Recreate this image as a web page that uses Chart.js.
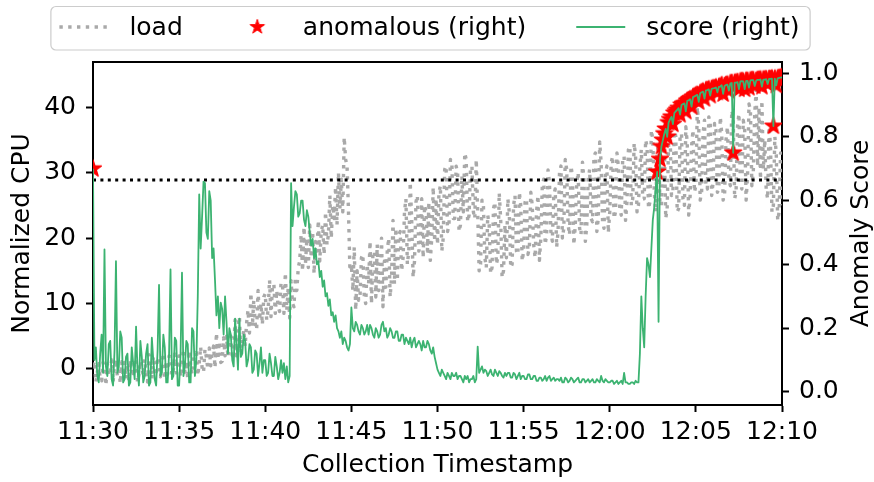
<!DOCTYPE html>
<html>
<head>
<meta charset="utf-8">
<script src="https://cdn.jsdelivr.net/npm/chart.js@4.4.0/dist/chart.umd.min.js"></script>
<style>html,body{margin:0;padding:0;background:#fff}canvas{display:block}</style>
</head>
<body>
<canvas id="c" width="874" height="482"></canvas>
<script>
// ---------- data ----------
const xTickLabels = ['11:30','11:35','11:40','11:45','11:50','11:55','12:00','12:05','12:10'];
const tickStepMinutes = 5;
const sampleStepSeconds = 5;   // one sample every 5 s, starting 11:30

// Normalized CPU (left axis), 12 samples per minute
const load = [
  0.5,1.2,-2.0,-0.5,0.8,-1.5,-1.8,1.0,0.2,-2.5,0.8,-1.0,
  -0.3,1.4,-2.0,0.6,1.5,-1.2,0.3,-2.2,1.1,-1.0,1.0,-1.5,
  0.7,-1.8,1.4,-0.5,-1.2,1.5,0.9,-2.0,-0.8,1.2,0.4,-1.0,
  1.5,-0.3,-2.0,2.2,0.6,-1.5,1.9,-1.0,-0.5,1.8,0.8,-1.2,
  0.3,2.4,-1.5,1.2,-0.8,2.0,1.8,-1.0,0.0,2.3,-0.6,1.5,
  2.0,-1.2,0.5,3.0,-0.5,1.2,-1.5,2.8,0.8,-0.8,1.5,2.0,
  2.5,-1.0,0.8,3.4,0.2,-0.5,3.0,1.8,0.0,3.2,0.5,2.5,
  3.5,0.2,5.5,1.5,4.2,1.0,1.2,4.8,2.0,5.0,1.8,4.0,
  5.0,1.5,3.0,7.5,2.0,6.5,8.0,2.5,4.0,6.0,3.5,7.0,
  9.0,5.5,11.6,6.5,10.5,7.0,6.0,12.0,7.5,10.0,6.8,11.0,
  11.5,7.5,9.0,13.6,8.0,12.5,13.0,8.5,12.0,9.5,8.8,13.2,
  13.0,8.5,14.7,9.0,12.5,7.8,13.5,10.0,9.5,14.0,12.0,15.5,
  16.5,20.5,15.0,21.7,16.0,20.0,15.5,22.0,17.0,21.0,14.6,19.5,
  18.0,22.7,16.5,21.0,22.0,17.5,24.0,19.0,20.5,26.5,20.0,25.0,
  23.0,27.8,22.0,30.0,24.5,29.0,24.0,35.4,32.0,31.0,24.0,15.0,
  16.0,12.0,18.6,9.0,15.0,10.5,11.0,17.0,17.5,11.0,10.0,16.0,
  13.0,19.5,10.0,17.5,18.0,11.0,19.0,12.0,12.5,20.0,9.5,16.5,
  12.5,18.0,20.0,11.0,14.0,22.7,13.0,21.5,13.5,20.5,21.0,15.0,
  17.0,24.0,26.0,16.0,18.0,28.5,23.0,14.0,16.5,25.5,26.5,18.0,
  19.0,26.0,17.0,25.0,24.0,18.0,25.5,16.6,20.0,27.8,19.5,26.0,
  19.0,26.9,28.0,18.0,20.0,30.5,31.0,21.0,22.0,32.0,31.5,23.0,
  23.0,31.0,30.0,21.0,22.0,29.5,24.0,33.0,32.0,22.5,23.5,30.5,
  31.0,24.0,23.0,32.0,24.0,15.0,16.0,25.8,25.0,17.0,15.5,23.5,
  22.0,14.6,15.5,24.5,25.5,16.0,17.0,26.9,23.0,14.0,15.0,22.0,
  17.0,26.0,24.0,15.5,16.0,25.0,26.5,18.0,17.5,27.0,25.0,16.5,
  18.0,25.5,26.0,17.5,18.5,27.0,25.0,19.0,17.0,24.0,26.5,16.6,
  20.0,28.0,29.0,19.0,20.5,30.4,28.5,21.0,19.5,26.5,27.5,18.6,
  21.0,30.0,31.0,20.0,21.5,32.0,30.5,22.0,20.5,31.0,29.5,19.0,
  22.0,28.5,30.0,21.5,20.5,31.6,29.0,19.5,22.0,29.0,30.5,23.0,
  22.5,32.5,33.0,21.0,23.0,34.7,31.5,22.5,21.5,30.0,31.0,20.8,
  24.0,31.5,32.5,23.0,24.0,33.0,31.0,24.5,23.5,32.0,32.5,22.7,
  25.5,33.5,34.0,25.0,26.0,34.5,32.5,24.0,25.0,31.0,33.5,26.0,
  26.0,35.0,34.0,24.5,25.5,36.5,35.0,27.0,24.0,33.0,34.5,25.0,
  25.0,36.0,35.0,23.0,24.5,34.5,36.5,26.5,27.0,37.0,35.5,24.0,
  24.5,35.5,36.0,26.0,25.0,37.0,34.5,23.5,26.5,34.0,36.5,27.0,
  28.0,40.0,37.0,25.8,27.0,36.0,38.0,28.0,27.5,38.5,37.5,26.5,
  28.5,37.5,36.5,27.0,27.5,38.5,36.0,25.8,26.5,35.0,37.0,29.0,
  28.0,39.5,38.5,26.0,27.0,37.0,39.0,28.5,27.5,38.0,36.5,25.8,
  29.5,40.5,39.5,28.0,30.0,39.0,42.6,31.0,40.0,29.0,41.0,30.5,
  35.0,27.3,26.0,37.0,34.0,24.0,25.0,35.5,33.0,22.7,24.0,33.0,
  25.0
];

// Anomaly score (right axis), 12 samples per minute
const score = [
  0.70,0.10,0.14,0.05,0.03,0.12,0.18,0.06,0.447,0.08,0.05,0.15,
  0.16,0.04,0.02,0.13,0.41,0.06,0.08,0.19,0.17,0.03,0.04,0.11,
  0.12,0.02,0.03,0.14,0.09,0.04,0.205,0.07,0.02,0.16,0.11,0.03,
  0.05,0.12,0.15,0.02,0.03,0.17,0.10,0.04,0.02,0.13,0.336,0.05,
  0.06,0.18,0.14,0.03,0.03,0.12,0.384,0.04,0.05,0.17,0.16,0.02,
  0.02,0.12,0.374,0.05,0.08,0.16,0.15,0.03,0.03,0.20,0.19,0.05,
  0.10,0.30,0.62,0.45,0.55,0.66,0.655,0.50,0.48,0.63,0.60,0.42,
  0.45,0.35,0.24,0.30,0.20,0.28,0.26,0.18,0.30,0.22,0.12,0.20,
  0.18,0.10,0.08,0.23,0.15,0.07,0.23,0.11,0.12,0.18,0.16,0.08,
  0.10,0.15,0.14,0.06,0.07,0.13,0.12,0.05,0.09,0.14,0.06,0.10,
  0.10,0.05,0.06,0.12,0.09,0.05,0.05,0.11,0.08,0.04,0.06,0.10,
  0.06,0.09,0.04,0.08,0.03,0.05,0.655,0.52,0.58,0.63,0.62,0.55,
  0.56,0.60,0.60,0.54,0.52,0.57,0.55,0.50,0.46,0.48,0.42,0.45,
  0.40,0.41,0.36,0.38,0.33,0.35,0.30,0.31,0.27,0.29,0.24,0.25,
  0.22,0.24,0.20,0.19,0.17,0.19,0.15,0.17,0.16,0.14,0.13,0.15,
  0.265,0.20,0.19,0.22,0.21,0.19,0.18,0.21,0.20,0.18,0.19,0.21,
  0.18,0.21,0.20,0.18,0.17,0.20,0.19,0.17,0.18,0.21,0.22,0.19,
  0.20,0.17,0.18,0.20,0.19,0.17,0.17,0.19,0.19,0.16,0.16,0.18,
  0.18,0.15,0.17,0.16,0.15,0.17,0.14,0.16,0.17,0.14,0.15,0.16,
  0.15,0.13,0.16,0.14,0.14,0.16,0.15,0.13,0.12,0.14,0.11,0.09,
  0.07,0.06,0.05,0.07,0.06,0.05,0.04,0.06,0.05,0.04,0.06,0.05,
  0.05,0.06,0.04,0.05,0.05,0.04,0.03,0.05,0.04,0.05,0.03,0.04,
  0.04,0.05,0.03,0.04,0.142,0.06,0.07,0.08,0.06,0.07,0.065,0.05,
  0.06,0.07,0.055,0.05,0.07,0.06,0.05,0.065,0.06,0.05,0.045,0.06,
  0.05,0.06,0.06,0.045,0.045,0.06,0.055,0.04,0.05,0.06,0.04,0.05,
  0.05,0.04,0.04,0.055,0.055,0.04,0.04,0.05,0.05,0.035,0.035,0.045,
  0.045,0.035,0.04,0.05,0.035,0.045,0.05,0.035,0.04,0.045,0.035,0.04,
  0.04,0.035,0.045,0.03,0.03,0.045,0.04,0.03,0.035,0.045,0.04,0.03,
  0.035,0.04,0.045,0.03,0.03,0.04,0.04,0.03,0.035,0.04,0.03,0.035,
  0.04,0.03,0.03,0.04,0.035,0.03,0.05,0.035,0.03,0.04,0.035,0.03,
  0.03,0.035,0.035,0.025,0.03,0.035,0.025,0.03,0.035,0.025,0.06,0.03,
  0.03,0.025,0.025,0.03,0.03,0.025,0.035,0.03,0.03,0.12,0.30,0.20,
  0.14,0.30,0.42,0.40,0.36,0.45,0.54,0.58,0.64,0.69,0.22,0.73,
  0.77,0.79,0.81,0.825,0.80,0.845,0.855,0.863,0.84,0.875,0.88,0.885,
  0.89,0.87,0.90,0.903,0.905,0.88,0.913,0.915,0.918,0.895,0.925,0.927,
  0.93,0.932,0.91,0.937,0.94,0.942,0.92,0.946,0.947,0.949,0.93,0.951,
  0.952,0.953,0.955,0.94,0.957,0.958,0.962,0.935,0.96,0.963,0.964,0.945,
  0.968,0.969,0.75,0.97,0.97,0.972,0.95,0.974,0.975,0.974,0.95,0.976,
  0.976,0.955,0.977,0.978,0.978,0.96,0.976,0.979,0.979,0.98,0.958,0.98,
  0.98,0.981,0.966,0.982,0.982,0.983,0.834,0.983,0.962,0.984,0.985,0.986,
  0.987
];

const anomalyThreshold = 0.665;
const leftRange = [-5.5, 46.9];
const rightRange = [-0.041, 1.035];
const legendLabels = ['load', 'anomalous (right)', 'score (right)'];
const titles = { x: 'Collection Timestamp', left: 'Normalized CPU', right: 'Anomaly Score' };

// ---------- styles ----------
const FONT = "'DejaVu Sans', sans-serif";
const FS = 25;
const GRAY = '#a9a9a9', GREEN = '#3cb371', RED = '#ff0000';
const LOAD_W = 3.4, LOAD_DASH = [3.4, 5.4];
const TH_W = 3, TH_DASH = [3, 4.4];
const SCORE_W = 1.8;
const STAR_R = 8.8;

function makeStar(R, lw) {
  const s = Math.ceil(R * 2 + 4);
  const c = document.createElement('canvas');
  c.width = s; c.height = s;
  const g = c.getContext('2d');
  g.translate(s / 2, s / 2);
  g.beginPath();
  for (let k = 0; k < 10; k++) {
    const r = (k % 2) ? R * 0.381966 : R;
    const a = -Math.PI / 2 + k * Math.PI / 5;
    g.lineTo(r * Math.cos(a), r * Math.sin(a));
  }
  g.closePath();
  g.fillStyle = RED; g.fill();
  g.strokeStyle = RED; g.lineWidth = lw; g.lineJoin = 'round'; g.stroke();
  return c;
}
const starImg = makeStar(STAR_R, 1.4);
const legendStar = makeStar(7.6, 1);

const xMin = 0, xMax = (xTickLabels.length - 1) * tickStepMinutes;
const tOf = i => i * sampleStepSeconds / 60;
const loadPts = load.map((v, i) => ({ x: tOf(i), y: v }));
const scorePts = score.map((v, i) => ({ x: tOf(i), y: v }));
const anomPts = scorePts.filter(p => p.y > anomalyThreshold);

const tickFont = { family: FONT, size: FS };

// custom legend + right title + top spine
const decorPlugin = {
  id: 'decor',
  afterDraw(chart) {
    const ctx = chart.ctx, a = chart.chartArea;
    ctx.save();
    ctx.strokeStyle = '#000'; ctx.lineWidth = 2; ctx.setLineDash([]);
    ctx.beginPath(); ctx.moveTo(a.left - 1, a.top); ctx.lineTo(a.right + 1, a.top); ctx.stroke();

    ctx.font = FS + 'px ' + FONT;
    ctx.fillStyle = '#000';
    ctx.translate(868, (a.top + a.bottom) / 2);
    ctx.rotate(-Math.PI / 2);
    ctx.textAlign = 'center'; ctx.textBaseline = 'alphabetic';
    ctx.fillText(titles.right, 0, 0);
    ctx.restore();

    ctx.save();
    ctx.font = FS + 'px ' + FONT;
    const widths = legendLabels.map(t => ctx.measureText(t).width);
    const sampleW = 49, gapText = 21, gapItem = 50, padL = 9, padR = 10;
    let total = 0;
    widths.forEach((w, i) => { total += sampleW + gapText + w + (i < widths.length - 1 ? gapItem : 0); });
    const boxW = total + padL + padR;
    const boxX = 430 - boxW / 2, boxY = 6, boxH = 43.5;
    ctx.beginPath();
    if (ctx.roundRect) ctx.roundRect(boxX + 0.5, boxY + 0.5, boxW, boxH, 5); else ctx.rect(boxX + 0.5, boxY + 0.5, boxW, boxH);
    ctx.fillStyle = 'rgba(255,255,255,0.8)'; ctx.fill();
    ctx.strokeStyle = '#cccccc'; ctx.lineWidth = 1.2; ctx.stroke();
    const cy = 27;
    let x = boxX + padL;
    legendLabels.forEach((t, i) => {
      if (i === 0) {
        ctx.strokeStyle = GRAY; ctx.lineWidth = LOAD_W; ctx.setLineDash(LOAD_DASH); ctx.lineCap = 'butt';
        ctx.beginPath(); ctx.moveTo(x, cy); ctx.lineTo(x + sampleW, cy); ctx.stroke();
        ctx.setLineDash([]);
      } else if (i === 1) {
        ctx.drawImage(legendStar, x + sampleW / 2 - legendStar.width / 2, cy - legendStar.height / 2);
      } else {
        ctx.strokeStyle = GREEN; ctx.lineWidth = SCORE_W; ctx.setLineDash([]);
        ctx.beginPath(); ctx.moveTo(x, cy); ctx.lineTo(x + sampleW, cy); ctx.stroke();
      }
      x += sampleW + gapText;
      ctx.fillStyle = '#000'; ctx.textAlign = 'left'; ctx.textBaseline = 'alphabetic';
      ctx.fillText(t, x, 35);
      x += widths[i] + gapItem;
    });
    ctx.restore();
  }
};

new Chart(document.getElementById('c'), {
  type: 'line',
  data: {
    datasets: [
      { label: legendLabels[0], data: loadPts, yAxisID: 'y', borderColor: GRAY, borderWidth: LOAD_W,
        borderDash: LOAD_DASH, borderCapStyle: 'butt', borderJoinStyle: 'round', pointRadius: 0, fill: false, order: 4, clip: 0 },
      { label: 'threshold', data: [{ x: xMin, y: anomalyThreshold }, { x: xMax, y: anomalyThreshold }], yAxisID: 'y2',
        borderColor: '#000', borderWidth: TH_W, borderDash: TH_DASH, borderCapStyle: 'butt', pointRadius: 0, fill: false, order: 3, clip: 0 },
      { label: legendLabels[1], data: anomPts, yAxisID: 'y2', showLine: false, pointStyle: starImg,
        pointRadius: STAR_R, order: 2, clip: 0 },
      { label: legendLabels[2], data: scorePts, yAxisID: 'y2', borderColor: GREEN, borderWidth: SCORE_W,
        borderJoinStyle: 'round', pointRadius: 0, fill: false, order: 1, clip: 0 }
    ]
  },
  options: {
    responsive: false,
    animation: false,
    devicePixelRatio: 1,
    events: [],
    layout: { padding: { top: 62, left: 0, right: 0, bottom: 0 } },
    plugins: { legend: { display: false }, tooltip: { enabled: false } },
    scales: {
      x: {
        type: 'linear', position: 'bottom', min: xMin, max: xMax,
        afterFit: s => { s.height = 77; },
        ticks: { stepSize: tickStepMinutes, includeBounds: false, autoSkip: false, maxRotation: 0,
          callback: v => xTickLabels[Math.round(v / tickStepMinutes)], font: tickFont, color: '#000', padding: 5 },
        grid: { display: true, drawOnChartArea: false, drawTicks: true, tickLength: 7, tickWidth: 2, tickColor: '#000' },
        border: { display: true, color: '#000', width: 2 },
        title: { display: true, text: titles.x, font: tickFont, color: '#000', padding: { top: 0, bottom: 2 } }
      },
      y: {
        type: 'linear', position: 'left', min: leftRange[0], max: leftRange[1],
        afterFit: s => { s.width = 93; },
        ticks: { stepSize: 10, includeBounds: false, font: tickFont, color: '#000', padding: 10 },
        grid: { display: true, drawOnChartArea: false, drawTicks: true, tickLength: 7, tickWidth: 2, tickColor: '#000' },
        border: { display: true, color: '#000', width: 2 },
        title: { display: true, text: titles.left, font: tickFont, color: '#000', padding: { top: 7, bottom: 0 } }
      },
      y2: {
        type: 'linear', position: 'right', min: rightRange[0], max: rightRange[1],
        afterFit: s => { s.width = 92; },
        ticks: { stepSize: 0.2, includeBounds: false, font: tickFont, color: '#000', padding: 10,
          callback: v => v.toFixed(1) },
        grid: { display: true, drawOnChartArea: false, drawTicks: true, tickLength: 7, tickWidth: 2, tickColor: '#000' },
        border: { display: true, color: '#000', width: 2 },
        title: { display: false }
      }
    }
  },
  plugins: [decorPlugin]
});
</script>
</body>
</html>
